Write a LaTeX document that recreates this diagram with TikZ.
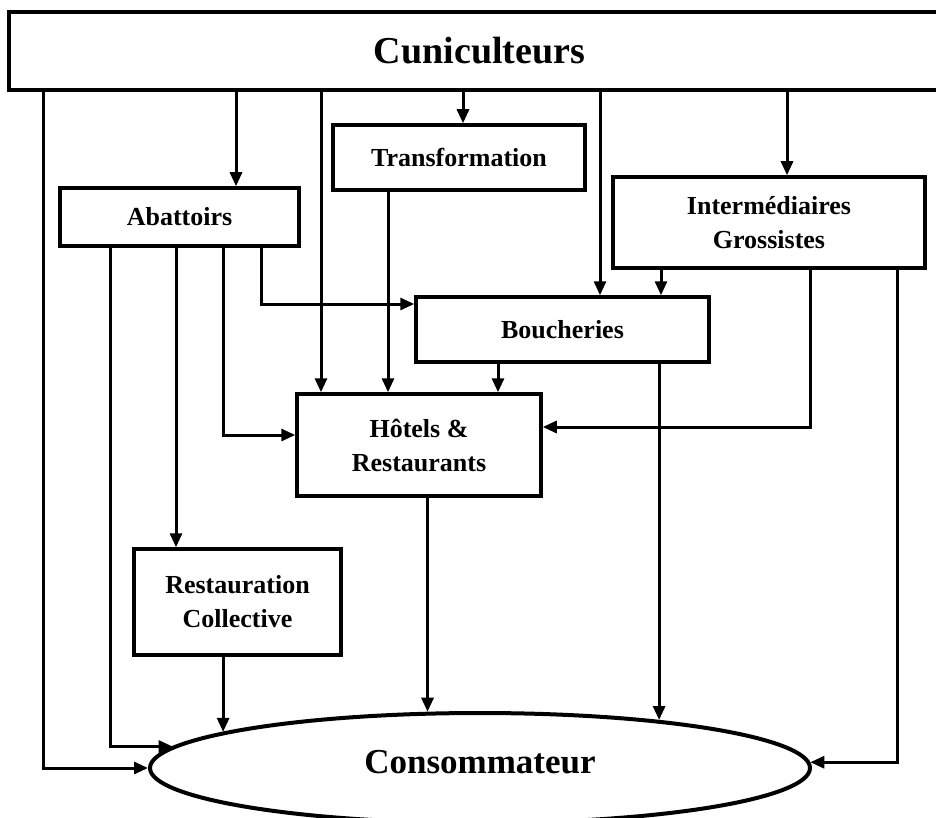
\documentclass[tikz,border=0pt]{standalone}
\usepackage{fontspec}
\setmainfont{Liberation Serif}
\usetikzlibrary{arrows.meta,shapes.geometric}
\begin{document}
\begin{tikzpicture}[x=1pt,y=-1pt,
  box/.style={draw,line width=3.5pt,rectangle,inner sep=0pt,align=center,
    font=\fontsize{26}{34}\selectfont\bfseries},
  arr/.style={line width=3pt,-{Triangle[length=14pt,width=12pt]}}]
\clip (0,0) rectangle (936,818);
\fill[white] (0,0) rectangle (936,818);
% nodes
\node[box,minimum width=941pt,minimum height=78pt,font=\fontsize{38}{40}\selectfont\bfseries] (cun) at (479.5,51) {Cuniculteurs};
\node[box,minimum width=252pt,minimum height=65pt] (trans) at (459,157.5) {Transformation};
\node[box,minimum width=239pt,minimum height=58pt] (abat) at (179.5,217) {Abattoirs};
\node[box,minimum width=312pt,minimum height=91pt] (inter) at (769,222.5) {Intermédiaires\\Grossistes};
\node[box,minimum width=293pt,minimum height=65pt] (bouch) at (562.5,329.5) {Boucheries};
\node[box,minimum width=244pt,minimum height=102pt] (hotel) at (419,445) {Hôtels \&\\Restaurants};
\node[box,minimum width=207pt,minimum height=106pt] (rest) at (237.5,602) {Restauration\\Collective};
\node[draw,ellipse,line width=4pt,inner sep=0pt,minimum width=660pt,minimum height=110pt,
  font=\fontsize{35}{40}\selectfont\bfseries,text depth=12pt] (cons) at (480,768) {Consommateur};
% x positions
\coordinate (x43) at (43,0);
\coordinate (x110) at (110,0);
\coordinate (x176) at (176,0);
\coordinate (x223) at (223,0);
\coordinate (x236) at (236,0);
\coordinate (x261) at (261,0);
\coordinate (x321) at (321,0);
\coordinate (x388) at (388,0);
\coordinate (x463) at (463,0);
\coordinate (x498) at (498,0);
\coordinate (x600) at (600,0);
\coordinate (x661) at (661,0);
\coordinate (x787) at (787,0);
\coordinate (x810) at (810,0);
\coordinate (x897) at (897,0);
% connectors from Cuniculteurs
\draw[arr] (cun.south -| x43) |- (cons.west);
\draw[arr] (cun.south -| x236) -- (abat.north -| x236);
\draw[arr] (cun.south -| x321) -- (hotel.north -| x321);
\draw[arr] (cun.south -| x463) -- (trans.north -| x463);
\draw[arr] (cun.south -| x600) -- (bouch.north -| x600);
\draw[arr] (cun.south -| x787) -- (inter.north -| x787);
% others
\draw[arr] (trans.south -| x388) -- (hotel.north -| x388);
\draw[arr] (bouch.south -| x498) -- (hotel.north -| x498);
\draw[arr] (inter.south -| x661) -- (bouch.north -| x661);
\draw[arr] (inter.south -| x810) |- ([yshift=18pt]hotel.east);
\draw[arr] (inter.south -| x897) |- (cons.1);
\draw[arr] (bouch.south -| cons.15.4) -- (cons.15.4);
\draw[arr] (hotel.south -| cons.133.2) -- (cons.133.2);
\draw[arr] (rest.south -| cons.172.4) -- (cons.172.4);
\draw[arr] (abat.south -| x110) |- (cons.176.7);
\draw[arr] (abat.south -| x176) -- (rest.north -| x176);
\draw[arr] (abat.south -| x223) |- ([yshift=10pt]hotel.west);
\draw[arr] (abat.south -| x261) |- ([yshift=25.5pt]bouch.west);
\end{tikzpicture}
\end{document}
